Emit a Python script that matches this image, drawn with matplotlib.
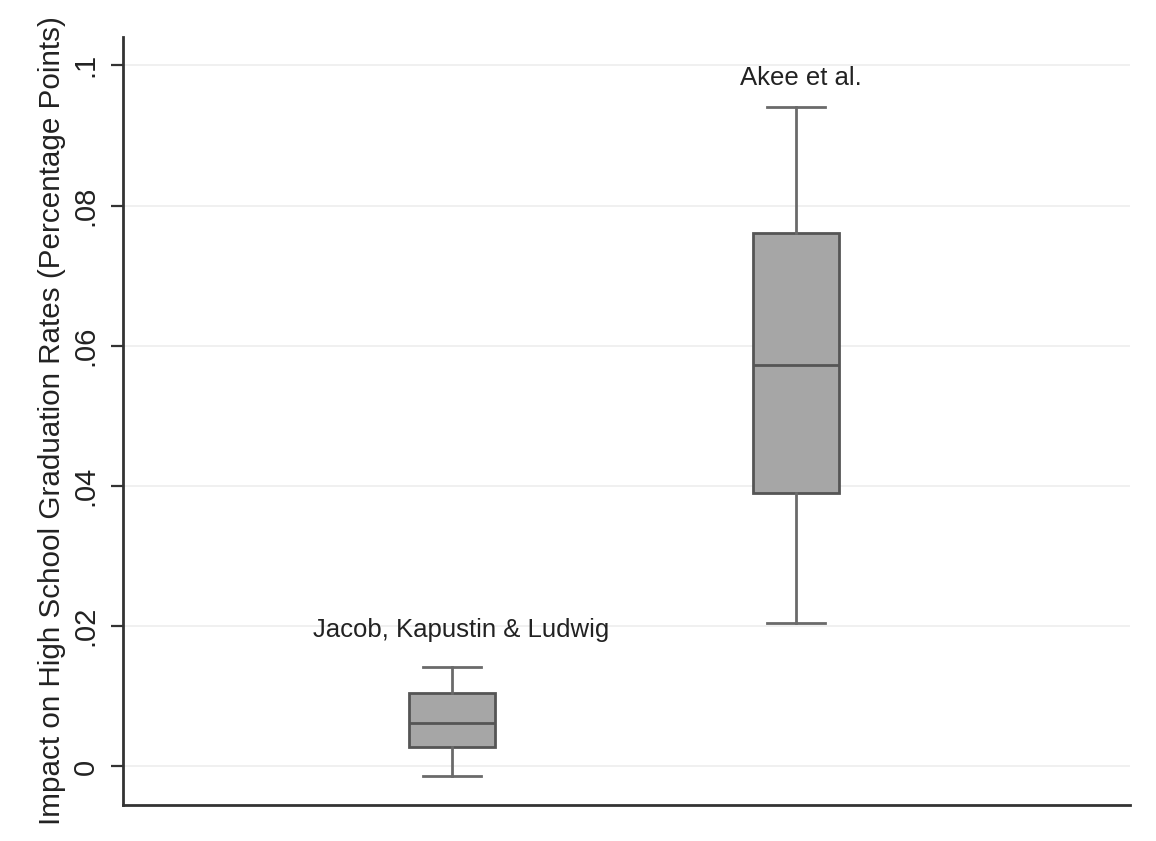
import matplotlib.pyplot as plt

plt.rcParams['font.family'] = ['Liberation Sans', 'DejaVu Sans']

# box summaries for each study (whisker low, q1, median, q3, whisker high)
studies = ['Jacob, Kapustin & Ludwig', 'Akee et al.']
whislo = [-0.0013, 0.0205]
q1 = [0.0028, 0.0390]
med = [0.0062, 0.0573]
q3 = [0.0105, 0.0761]
whishi = [0.0142, 0.0941]
positions = [1, 2]
label_x = [1.026, 2.015]
label_y = [0.0195, 0.0982]

yticks = [0, 0.02, 0.04, 0.06, 0.08, 0.1]
ytick_labels = ['0', '.02', '.04', '.06', '.08', '.1']

stats = []
for i in range(len(studies)):
    stats.append({'label': studies[i], 'whislo': whislo[i], 'q1': q1[i],
                  'med': med[i], 'q3': q3[i], 'whishi': whishi[i], 'fliers': []})

fig = plt.figure(figsize=(11.56, 8.41), dpi=100)
ax = fig.add_axes([0.1064, 0.0428, 0.871, 0.9136])

# light horizontal grid behind the boxes
for t in yticks:
    ax.axhline(t, color='#eeeeee', lw=1.2, zorder=0)

ax.bxp(stats, positions=positions, widths=0.25, patch_artist=True, showfliers=False,
       boxprops=dict(facecolor='#a6a6a6', edgecolor='#555555', linewidth=2),
       medianprops=dict(color='#555555', linewidth=2),
       whiskerprops=dict(color='#6a6a6a', linewidth=2),
       capprops=dict(color='#6a6a6a', linewidth=2),
       capwidths=0.17)

for i, name in enumerate(studies):
    ax.text(label_x[i], label_y[i], name, ha='center', va='center',
            fontsize=18.5, color='#222222')

ax.set_xlim(0.044, 2.97)
ax.set_ylim(-0.0055, 0.1041)
ax.set_xticks([])
ax.set_yticks(yticks)
ax.set_yticklabels(ytick_labels, rotation=90, va='center', fontsize=21, color='#222222')
ax.tick_params(axis='y', length=9, width=1.6, color='#333333', pad=8)
ax.set_ylabel('Impact on High School Graduation Rates (Percentage Points)',
              fontsize=21.3, color='#222222', labelpad=4)

for side in ['top', 'right']:
    ax.spines[side].set_visible(False)
for side in ['left', 'bottom']:
    ax.spines[side].set_linewidth(2)
    ax.spines[side].set_color('#333333')

fig.savefig('out.png', dpi=100)
